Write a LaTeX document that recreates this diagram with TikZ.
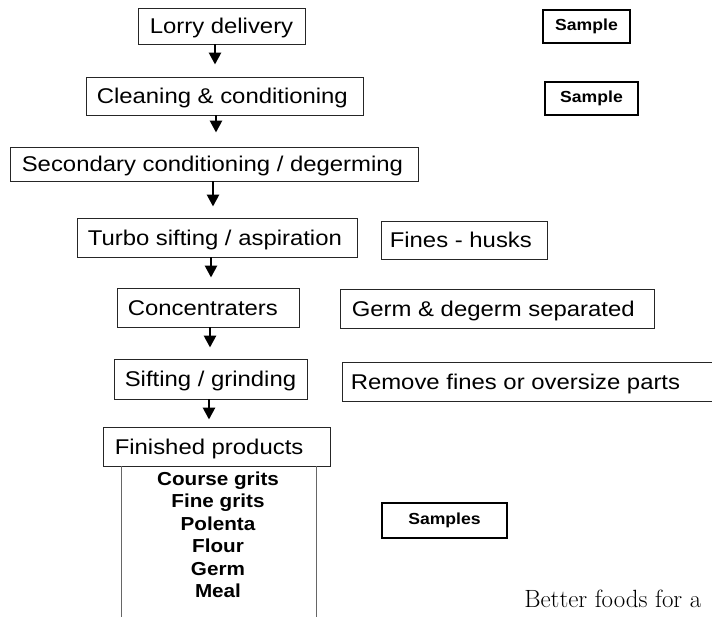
\documentclass[tikz,border=0pt]{standalone}
\usepackage{fontspec}
\newfontfamily\arialx{Liberation Sans}[FakeStretch=1.12]
\newfontfamily\arialb{Liberation Sans}[FakeStretch=1.1]
\usetikzlibrary{arrows.meta}
\def\u{0.75pt}
\begin{document}
\begin{tikzpicture}[x=0.75pt,y=-0.75pt,
  bx/.style={draw=black!85, line width=0.7pt, inner sep=0pt},
  sbx/.style={draw=black, line width=0.9pt, inner sep=0pt,
    font=\arialb\bfseries\fontsize{12}{14}\selectfont},
  lbl/.style={anchor=west, inner sep=0pt, text height=11.5pt, text depth=0pt,
    font=\arialx\fontsize{16}{19}\selectfont},
  prod/.style={anchor=base, inner sep=0pt,
    font=\arialb\bfseries\fontsize{14.1}{16}\selectfont},
  arr/.style={line width=2pt, -{Triangle[width=9pt,length=9pt]}},
  vline/.style={draw=black!60, line width=0.5pt}]
\useasboundingbox (0,0) rectangle (712,616);
\clip (0,0) rectangle (712,616);
% main flow boxes
\node[bx, minimum width=167*\u, minimum height=36*\u] (lorry) at (221.5,26) {};
\node[lbl] (tlorry) at ([xshift=12*\u]lorry.west) {Lorry delivery};
\node[bx, minimum width=277*\u, minimum height=38*\u] (clean) at (224.5,96) {};
\node[lbl] (tclean) at ([xshift=11*\u]clean.west) {Cleaning \& conditioning};
\node[bx, minimum width=408*\u, minimum height=34*\u] (second) at (214,164) {};
\node[lbl] (tsecond) at ([xshift=12*\u]second.west) {Secondary conditioning / degerming};
\node[bx, minimum width=280*\u, minimum height=39*\u] (turbo) at (217,237.5) {};
\node[lbl] (tturbo) at ([xshift=11*\u]turbo.west) {Turbo sifting / aspiration};
\node[bx, minimum width=182*\u, minimum height=39*\u] (conc) at (208,307.5) {};
\node[lbl] (tconc) at ([xshift=11*\u]conc.west) {Concentraters};
\node[bx, minimum width=193*\u, minimum height=40*\u] (sift) at (210.5,379) {};
\node[lbl] (tsift) at ([xshift=11*\u]sift.west) {Sifting / grinding};
\node[bx, minimum width=227*\u, minimum height=39*\u] (fin) at (216.5,446.5) {};
\node[lbl] (tfin) at ([xshift=12*\u]fin.west) {Finished products};
% side boxes
\node[bx, minimum width=166*\u, minimum height=38*\u] (fines) at (464,240) {};
\node[lbl] (tfines) at ([xshift=9*\u]fines.west) {Fines - husks};
\node[bx, minimum width=314*\u, minimum height=39*\u] (germ) at (497,308.5) {};
\node[lbl] (tgerm) at ([xshift=12*\u]germ.west) {Germ \& degerm separated};
\node[bx, minimum width=398*\u, minimum height=39*\u] (remove) at (541,381.5) {};
\node[lbl] (tremove) at ([xshift=9*\u]remove.west) {Remove fines or oversize parts};
\node[sbx, minimum width=87*\u, minimum height=33*\u] (s1) at (586.5,26.5) {Sample};
\node[sbx, minimum width=93*\u, minimum height=33*\u] (s2) at (591.5,98.5) {Sample};
\node[sbx, minimum width=125*\u, minimum height=35*\u] (s3) at (444.5,520.5) {Samples};
% arrows
\draw[arr] ([xshift=-6.5*\u]lorry.south) -- ([xshift=-9.5*\u,yshift=12*\u]clean.north);
\draw[arr] ([xshift=-8.5*\u]clean.south) -- ([xshift=2*\u,yshift=14*\u]second.north);
\draw[arr] ([xshift=-1*\u]second.south) -- ([xshift=-4*\u,yshift=11*\u]turbo.north);
\draw[arr] ([xshift=-6*\u]turbo.south) -- ([xshift=3*\u,yshift=10*\u]conc.north);
\draw[arr] ([xshift=2*\u]conc.south) -- ([xshift=-0.5*\u,yshift=11*\u]sift.north);
\draw[arr] ([xshift=-1.5*\u]sift.south) -- ([xshift=-7.5*\u,yshift=7*\u]fin.north);
% product column
\draw[vline] ([xshift=19*\u]fin.south west) -- ++(0,160);
\draw[vline] ([xshift=-14*\u]fin.south east) -- ++(0,160);
\node[prod] (p1) at (218,485) {Course grits};
\node[prod] (p2) at (218,507.5) {Fine grits};
\node[prod] (p3) at (218,530) {Polenta};
\node[prod] (p4) at (218,552.5) {Flour};
\node[prod] (p5) at (218,575) {Germ};
\node[prod] (p6) at (218,597.5) {Meal};
% footer text
\node[anchor=base west, inner sep=0pt, font=\fontsize{18.7}{22}\selectfont] (tag) at (524,607) {Better foods for a};
\end{tikzpicture}
\end{document}
